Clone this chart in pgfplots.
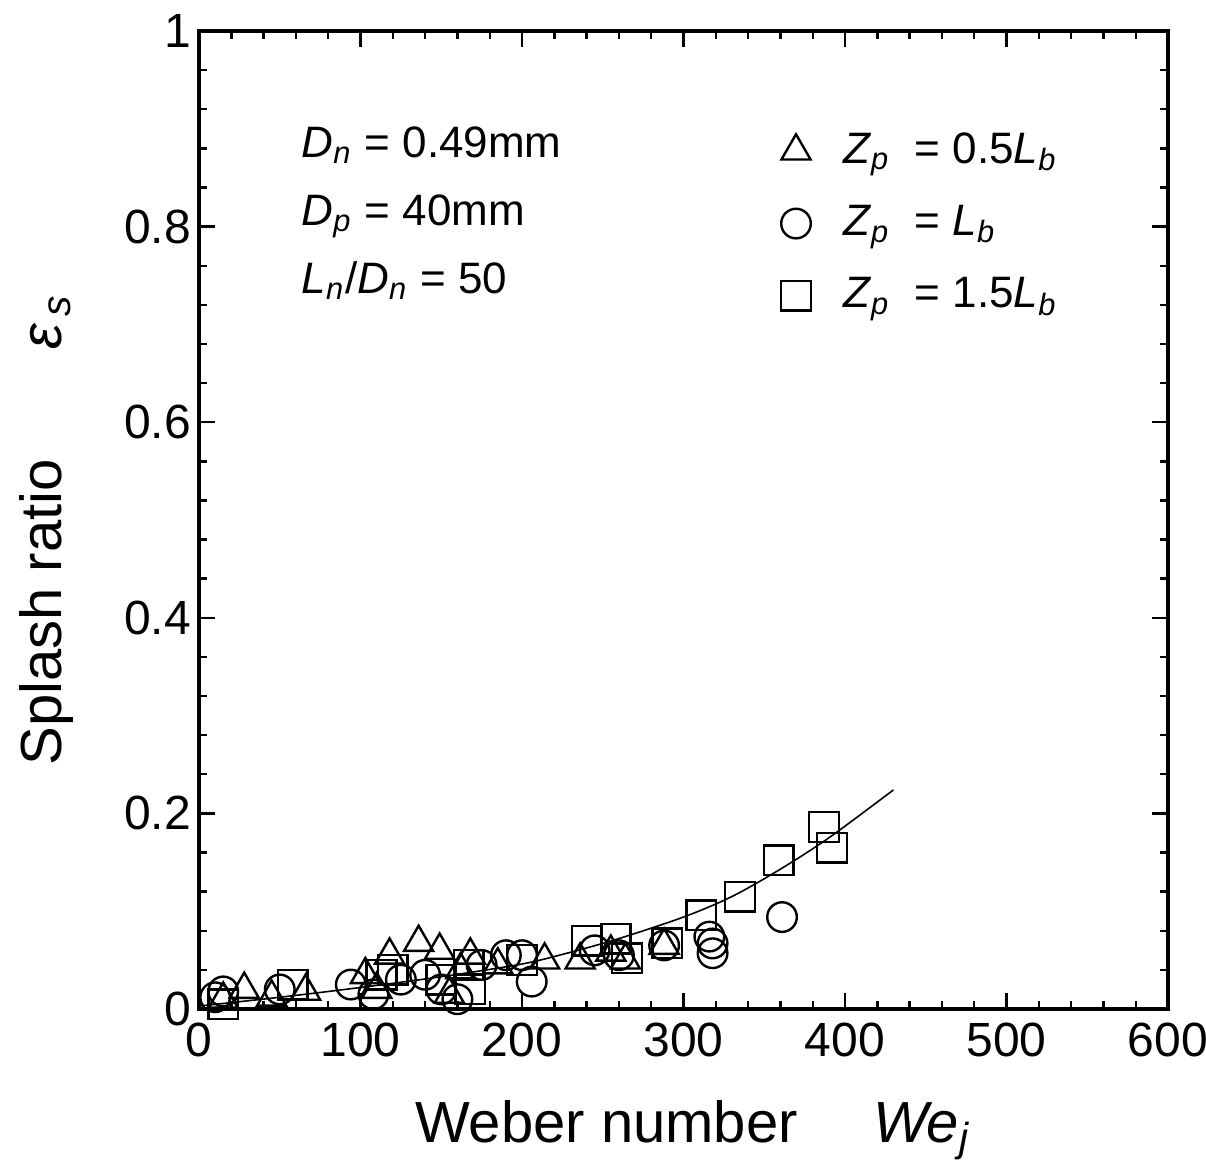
\documentclass[border=0pt]{standalone}
\usepackage{fontspec}
\setmainfont{Liberation Sans}
\usepackage{pgfplots}
\pgfplotsset{compat=1.18}
\newcommand{\sub}[1]{\textsubscript{\textit{#1}}}

\begin{document}
\begin{tikzpicture}
% picture frame: the axis box sits at the origin
\useasboundingbox (-49.75pt,-41pt) rectangle (251.75pt,252.25pt);
\begin{axis}[
  at={(0,0)},anchor=south west,
  scale only axis,
  width=242.25pt,height=244.5pt,
  xmin=0,xmax=600,ymin=0,ymax=1,
  xtick={0,100,...,600},
  ytick={0,0.2,0.4,0.6,0.8,1},
  yticklabels={0,0.2,0.4,0.6,0.8,1},
  minor x tick num=4,
  minor y tick num=4,
  tick align=inside,
  major tick length=4pt,minor tick length=2pt,
  axis line style={line width=1pt},
  every tick/.style={black,line width=0.6pt},
  tick label style={font=\fontsize{12}{14}\selectfont},
  /pgf/number format/assume math mode=true,
  yticklabel style={xshift=1.5pt},
  xlabel={Weber number\hspace{1.3em}\textit{We}\sub{j}},
  ylabel={Splash ratio\hspace{1.9em}\textit{ε}\textsubscript{\,\textit{s}}},
  label style={font=\fontsize{14.5}{16}\selectfont},
  xlabel style={at={(axis description cs:0.51,-0.124)},anchor=center},
  ylabel style={at={(axis description cs:-0.157,0.49)},anchor=center},
  legend style={draw=none,fill=none,at={(0.6,0.905)},anchor=north west,
    font=\fontsize{11}{13}\selectfont,row sep=5pt,inner sep=0pt},
  legend cell align=left,
  clip=false,
]
\addplot[black,thin,no markers,smooth,forget plot] coordinates {
  (0,0.003) (50,0.012) (100,0.022) (150,0.033) (200,0.046) (230,0.058)
  (260,0.072) (300,0.094) (330,0.115) (360,0.143) (390,0.175) (430,0.224)};
\addplot[only marks,mark=triangle,mark size=4.2pt,black,line width=0.6pt] coordinates {
  (15,0.01) (28,0.02) (45,0.012) (66,0.018) (103,0.035) (110,0.02)
  (118,0.055) (136,0.068) (149,0.06) (155,0.015) (162,0.04) (168,0.055)
  (185,0.045) (214,0.05) (236,0.05) (255,0.058) (264,0.05) (288,0.065)};
\addlegendentry{\hspace{0.55em}\textit{Z}\sub{p} \ = 0.5\textit{L}\sub{b}}
\addplot[only marks,mark=o,mark size=3.7pt,black,line width=0.6pt] coordinates {
  (10,0.012) (15,0.018) (50,0.02) (94,0.025) (108,0.015) (125,0.03)
  (140,0.035) (150,0.02) (160,0.01) (175,0.045) (190,0.055) (200,0.055)
  (206,0.028) (245,0.06) (260,0.055) (288,0.065) (316,0.074) (318,0.057)
  (318,0.067) (361,0.094)};
\addlegendentry{\hspace{0.55em}\textit{Z}\sub{p} \ = \textit{L}\sub{b}}
\addplot[only marks,mark=square,mark size=3.7pt,black,line width=0.6pt] coordinates {
  (15,0.005) (58,0.025) (113,0.035) (120,0.04) (150,0.03) (167,0.045)
  (168,0.02) (200,0.05) (240,0.07) (258,0.072) (265,0.052) (290,0.067)
  (311,0.096) (335,0.115) (359,0.152) (387,0.186) (392,0.165)};
\addlegendentry{\hspace{0.55em}\textit{Z}\sub{p} \ = 1.5\textit{L}\sub{b}}
\node[anchor=north west,align=left,font=\fontsize{11}{17}\selectfont,inner sep=0pt]
  at (axis cs:63,0.903)
  {\textit{D}\sub{n} = 0.49mm\\ \textit{D}\sub{p} = 40mm\\ \textit{L}\sub{n}/\textit{D}\sub{n} = 50};
\end{axis}
\end{tikzpicture}
\end{document}
